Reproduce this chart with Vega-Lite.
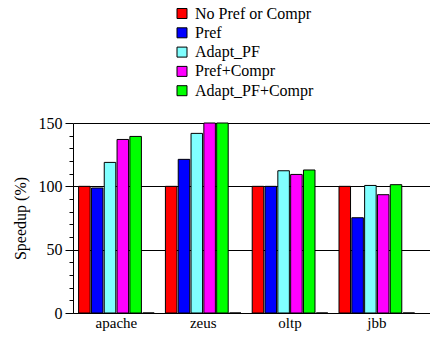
{
  "$schema": "https://vega.github.io/schema/vega-lite/v6.json",
  "autosize": {"type": "none"},
  "padding": {"left": 73, "top": 123, "right": 0, "bottom": 24},
  "width": 357,
  "height": 190,
  "background": "white",
  "config": {
    "font": "Liberation Serif, Times New Roman, serif",
    "view": {"stroke": null},
    "axis": {"labelFont": "Liberation Serif, Times New Roman, serif", "titleFont": "Liberation Serif, Times New Roman, serif", "labelColor": "black", "titleColor": "black", "domainColor": "black", "tickColor": "black"},
    "legend": {"labelFont": "Liberation Serif, Times New Roman, serif"}
  },
  "data": {
    "values": [
      {"bench": "apache", "series": "No Pref or Compr", "speedup": 100},
      {"bench": "apache", "series": "Pref", "speedup": 98.7},
      {"bench": "apache", "series": "Adapt_PF", "speedup": 118.9},
      {"bench": "apache", "series": "Pref+Compr", "speedup": 137},
      {"bench": "apache", "series": "Adapt_PF+Compr", "speedup": 139.4},
      {"bench": "apache", "series": " ", "speedup": 0},
      {"bench": "zeus", "series": "No Pref or Compr", "speedup": 100},
      {"bench": "zeus", "series": "Pref", "speedup": 121.3},
      {"bench": "zeus", "series": "Adapt_PF", "speedup": 141.8},
      {"bench": "zeus", "series": "Pref+Compr", "speedup": 150},
      {"bench": "zeus", "series": "Adapt_PF+Compr", "speedup": 150},
      {"bench": "zeus", "series": " ", "speedup": 0},
      {"bench": "oltp", "series": "No Pref or Compr", "speedup": 100},
      {"bench": "oltp", "series": "Pref", "speedup": 100},
      {"bench": "oltp", "series": "Adapt_PF", "speedup": 112.3},
      {"bench": "oltp", "series": "Pref+Compr", "speedup": 109.4},
      {"bench": "oltp", "series": "Adapt_PF+Compr", "speedup": 112.9},
      {"bench": "oltp", "series": " ", "speedup": 0},
      {"bench": "jbb", "series": "No Pref or Compr", "speedup": 100},
      {"bench": "jbb", "series": "Pref", "speedup": 75.2},
      {"bench": "jbb", "series": "Adapt_PF", "speedup": 100.7},
      {"bench": "jbb", "series": "Pref+Compr", "speedup": 93.4},
      {"bench": "jbb", "series": "Adapt_PF+Compr", "speedup": 101.3},
      {"bench": "jbb", "series": " ", "speedup": 0}
    ]
  },
  "mark": {"type": "bar", "stroke": "black", "strokeWidth": 1},
  "encoding": {
    "x": {
      "field": "bench", "type": "nominal", "sort": ["apache", "zeus", "oltp", "jbb"],
      "scale": {"paddingInner": 0.129, "paddingOuter": 0.121, "align": 0.267},
      "axis": {"title": null, "labelAngle": 0, "labelFontSize": 15, "ticks": false, "labelPadding": 2, "domainWidth": 1}
    },
    "xOffset": {
      "field": "series", "type": "nominal",
      "sort": ["No Pref or Compr", "Pref", "Adapt_PF", "Pref+Compr", "Adapt_PF+Compr", " "],
      "scale": {"paddingInner": 0.1, "paddingOuter": 0}
    },
    "y": {
      "field": "speedup", "type": "quantitative",
      "scale": {"domain": [0, 150], "nice": false},
      "axis": {
        "title": "Speedup (%)", "titleFontSize": 16, "titleFontWeight": "normal", "titlePadding": 10,
        "values": [0, 10, 20, 30, 40, 50, 60, 70, 80, 90, 100, 110, 120, 130, 140, 150],
        "labelExpr": "datum.value % 50 === 0 ? datum.label : ''",
        "labelFontSize": 16, "labelPadding": 3,
        "tickSize": {"condition": {"test": "datum.value % 50 === 0", "value": 8}, "value": 4},
        "grid": true, "gridColor": "black", "gridWidth": 1,
        "gridOpacity": {"condition": {"test": "datum.value % 50 === 0", "value": 1}, "value": 0},
        "domainWidth": 1
      }
    },
    "color": {
      "field": "series", "type": "nominal",
      "scale": {
        "domain": ["No Pref or Compr", "Pref", "Adapt_PF", "Pref+Compr", "Adapt_PF+Compr", " "],
        "range": ["#ff0000", "#0000ff", "#80ffff", "#ff00ff", "#00ff00", "#ffffff"]
      },
      "legend": {
        "title": null,
        "values": ["No Pref or Compr", "Pref", "Adapt_PF", "Pref+Compr", "Adapt_PF+Compr"],
        "orient": "none", "legendX": 101, "legendY": -117.5,
        "symbolType": "square", "symbolSize": 100, "symbolStrokeColor": "black", "symbolStrokeWidth": 1,
        "symbolOpacity": 1,
        "labelFontSize": 16, "labelColor": "black", "labelOffset": 5,
        "rowPadding": 3.3
      }
    }
  }
}
